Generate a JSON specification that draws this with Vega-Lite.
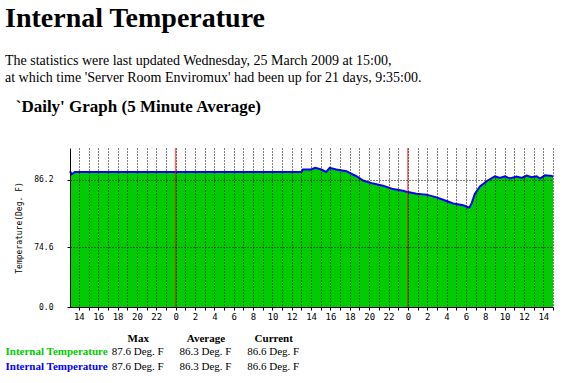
{
  "$schema": "https://vega.github.io/schema/vega-lite/v6.json",
  "background": "white",
  "padding": 5,
  "title": {
    "text": "Internal Temperature",
    "subtitle": ["The statistics were last updated Wednesday, 25 March 2009 at 15:00,", "at which time 'Server Room Enviromux' had been up for 21 days, 9:35:00."],
    "anchor": "start",
    "font": "Liberation Serif",
    "fontSize": 28,
    "fontWeight": "bold",
    "subtitleFont": "Liberation Serif",
    "subtitleFontSize": 14,
    "subtitlePadding": 21,
    "subtitleLineHeight": 17,
    "offset": 13
  },
  "spacing": 11,
  "vconcat": [
    {
      "width": 483,
      "height": 159,
      "title": {"text": "`Daily' Graph (5 Minute Average)", "font": "Liberation Serif", "fontSize": 17, "fontWeight": "bold", "anchor": "start", "offset": 31},
      "data": {"values": [
        {"time": "2009-03-23T13:05:00", "temp": 87.31},
        {"time": "2009-03-23T13:15:00", "temp": 86.93},
        {"time": "2009-03-23T13:35:00", "temp": 87.22},
        {"time": "2009-03-23T16:00:00", "temp": 87.22},
        {"time": "2009-03-23T18:00:00", "temp": 87.22},
        {"time": "2009-03-23T20:00:00", "temp": 87.22},
        {"time": "2009-03-23T22:00:00", "temp": 87.22},
        {"time": "2009-03-24T00:00:00", "temp": 87.22},
        {"time": "2009-03-24T02:00:00", "temp": 87.22},
        {"time": "2009-03-24T04:00:00", "temp": 87.22},
        {"time": "2009-03-24T06:00:00", "temp": 87.22},
        {"time": "2009-03-24T08:00:00", "temp": 87.22},
        {"time": "2009-03-24T10:00:00", "temp": 87.22},
        {"time": "2009-03-24T12:00:00", "temp": 87.22},
        {"time": "2009-03-24T13:00:00", "temp": 87.22},
        {"time": "2009-03-24T13:10:00", "temp": 87.52},
        {"time": "2009-03-24T14:00:00", "temp": 87.52},
        {"time": "2009-03-24T14:26:00", "temp": 87.72},
        {"time": "2009-03-24T15:03:00", "temp": 87.52},
        {"time": "2009-03-24T15:34:00", "temp": 87.22},
        {"time": "2009-03-24T15:55:00", "temp": 87.72},
        {"time": "2009-03-24T16:36:00", "temp": 87.52},
        {"time": "2009-03-24T17:39:00", "temp": 87.31},
        {"time": "2009-03-24T17:59:00", "temp": 87.09},
        {"time": "2009-03-24T18:41:00", "temp": 86.68},
        {"time": "2009-03-24T19:22:00", "temp": 86.13},
        {"time": "2009-03-24T20:24:00", "temp": 85.72},
        {"time": "2009-03-24T21:26:00", "temp": 85.44},
        {"time": "2009-03-24T22:28:00", "temp": 84.97},
        {"time": "2009-03-24T23:30:00", "temp": 84.75},
        {"time": "2009-03-25T00:00:00", "temp": 84.55},
        {"time": "2009-03-25T00:53:00", "temp": 84.33},
        {"time": "2009-03-25T01:55:00", "temp": 84.19},
        {"time": "2009-03-25T02:58:00", "temp": 83.79},
        {"time": "2009-03-25T04:00:00", "temp": 83.25},
        {"time": "2009-03-25T04:41:00", "temp": 82.86},
        {"time": "2009-03-25T05:43:00", "temp": 82.59},
        {"time": "2009-03-25T06:20:00", "temp": 82.2},
        {"time": "2009-03-25T06:35:00", "temp": 82.86},
        {"time": "2009-03-25T06:55:00", "temp": 84.28},
        {"time": "2009-03-25T07:27:00", "temp": 85.34},
        {"time": "2009-03-25T08:08:00", "temp": 86.03},
        {"time": "2009-03-25T09:00:00", "temp": 86.68},
        {"time": "2009-03-25T09:31:00", "temp": 86.46},
        {"time": "2009-03-25T10:02:00", "temp": 86.68},
        {"time": "2009-03-25T10:33:00", "temp": 86.39},
        {"time": "2009-03-25T11:14:00", "temp": 86.64},
        {"time": "2009-03-25T11:46:00", "temp": 86.46},
        {"time": "2009-03-25T12:17:00", "temp": 86.77},
        {"time": "2009-03-25T12:48:00", "temp": 86.55},
        {"time": "2009-03-25T13:19:00", "temp": 86.68},
        {"time": "2009-03-25T13:39:00", "temp": 86.39},
        {"time": "2009-03-25T14:10:00", "temp": 86.8},
        {"time": "2009-03-25T14:52:00", "temp": 86.72},
        {"time": "2009-03-25T15:00:00", "temp": 86.6}
      ]},
      "layer": [
        {
          "mark": {"type": "area", "color": "#00cc00"},
          "encoding": {
            "x": {
              "field": "time", "type": "temporal",
              "axis": {
                "title": null,
                "tickCount": 50,
                "format": "%-H",
                "zindex": 1,
                "grid": true, "gridColor": "#000", "gridDash": [1, 2],
                "labelFont": "DejaVu Sans Mono", "labelFontSize": 9, "labelColor": "#000",
                "tickSize": 3, "tickColor": "#000", "domainColor": "#000"
              }
            },
            "y": {
              "field": "temp", "type": "quantitative",
              "scale": {"type": "pow", "exponent": 5.2, "domain": [0, 90], "nice": false},
              "axis": {
                "title": "Temperature(Deg. F)", "titleFont": "DejaVu Sans Mono", "titleFontSize": 8, "titleFontWeight": "normal", "titleColor": "#000", "titlePadding": 10,
                "values": [0, 51.6, 63.0, 69.7, 74.6, 78.3, 81.4, 84.0, 86.2, 88.2, 90.0],
                "format": ".1f",
                "zindex": 1,
                "labelOverlap": false,
                "labelFont": "DejaVu Sans Mono", "labelFontSize": 8, "labelColor": "#000", "labelPadding": 14,
                "tickSize": 3, "tickColor": "#000",
                "grid": true, "gridColor": "#000", "gridDash": [1, 2],
                "domainColor": "#000"
              }
            }
          }
        },
        {
          "mark": {"type": "line", "color": "#0000ff", "strokeWidth": 2},
          "encoding": {
            "x": {"field": "time", "type": "temporal"},
            "y": {"field": "temp", "type": "quantitative"}
          }
        },
        {
          "data": {"values": [{"midnight": "2009-03-24T00:00:00"}, {"midnight": "2009-03-25T00:00:00"}]},
          "mark": {"type": "rule", "color": "#ff0000", "opacity": 0.6, "strokeWidth": 1.5},
          "encoding": {
            "x": {"field": "midnight", "type": "temporal"}
          }
        }
      ]
    },
    {
      "width": 271,
      "height": 30,
      "data": {"values": [
        {"row": "Internal Temperature", "col": "Max", "text": "87.6 Deg. F"},
        {"row": "Internal Temperature", "col": "Average", "text": "86.3 Deg. F"},
        {"row": "Internal Temperature", "col": "Current", "text": "86.6 Deg. F"},
        {"row": "Internal Temperature ", "col": "Max", "text": "87.6 Deg. F"},
        {"row": "Internal Temperature ", "col": "Average", "text": "86.3 Deg. F"},
        {"row": "Internal Temperature ", "col": "Current", "text": "86.6 Deg. F"}
      ]},
      "mark": {"type": "text", "font": "Liberation Serif", "fontSize": 11, "color": "#000"},
      "encoding": {
        "x": {
          "field": "col", "type": "nominal", "sort": ["Max", "Average", "Current"],
          "scale": {"padding": 1.1},
          "axis": {"orient": "top", "title": null, "domain": false, "ticks": false, "labelAngle": 0, "labelFont": "Liberation Serif", "labelFontSize": 11, "labelFontWeight": "bold", "labelColor": "#000", "labelPadding": 1}
        },
        "y": {
          "field": "row", "type": "nominal", "sort": ["Internal Temperature", "Internal Temperature "],
          "axis": {"title": null, "domain": false, "ticks": false, "grid": false, "labelAlign": "left", "labelPadding": 65, "labelColor": {"condition": {"test": "datum.value === 'Internal Temperature'", "value": "#00cc00"}, "value": "#0000ff"}, "labelFont": "Liberation Serif", "labelFontSize": 11, "labelFontWeight": "bold"}
        },
        "text": {"field": "text"}
      }
    }
  ],
  "config": {"view": {"stroke": null}}
}
